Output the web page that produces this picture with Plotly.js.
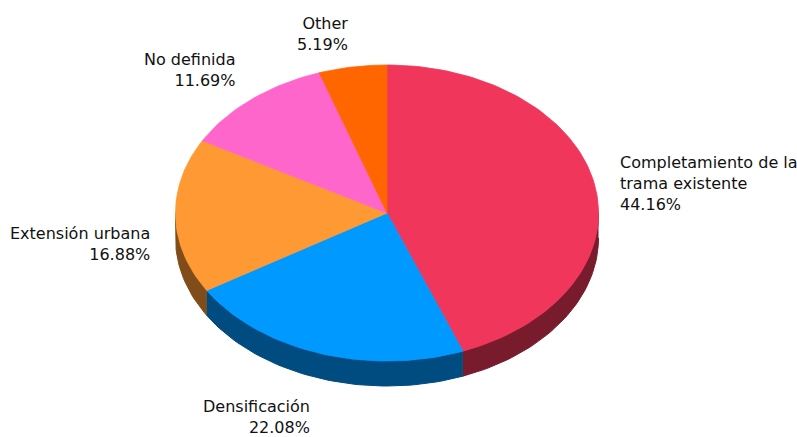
<!DOCTYPE html>
<html><head><meta charset="utf-8">
<script src="https://cdn.plot.ly/plotly-3.0.1.min.js"></script>
<style>html,body{margin:0;padding:0;background:#fff;}#chart{width:797px;height:437px;}</style>
</head><body><div id="chart"></div>
<script>
// ---- data ----
const categories = ["Completamiento de la trama existente", "Densificación", "Extensión urbana", "No definida", "Other"];
const percentages = [44.16, 22.08, 16.88, 11.69, 5.19];
const topColors = ["#F0365A", "#0099FF", "#FF9933", "#FF66CC", "#FF6600"];
const sideColors = ["#781B2D", "#004C80", "#804C19", "#803366", "#803300"];

// ---- geometry / styling ----
const cx = 387, cy = 213, rx = 211.5, ry = 148, depth = 25;
const lrx = 236, lcy = 229, lry = 198;
const labelNudgeY = [-9, 0, 11, -7, 0];   // label spacing adjustments (px)

function pt(deg, dy) {
  const r = deg * Math.PI / 180;
  return [cx + rx * Math.sin(r), cy - ry * Math.cos(r) + (dy || 0)];
}
function wrap(s, n) {
  const words = s.split(" "); const lines = []; let cur = "";
  words.forEach(w => {
    if (cur && (cur + " " + w).length > n) { lines.push(cur); cur = w; }
    else cur = cur ? cur + " " + w : w;
  });
  if (cur) lines.push(cur);
  return lines.join("<br>");
}

const total = percentages.reduce((a, b) => a + b, 0);
const sides = [], tops = [], annotations = [];
let start = 0;
percentages.forEach((v, i) => {
  const sweep = v / total * 360, end = start + sweep;
  // side wall (front half only)
  const a0 = Math.max(start, 90), a1 = Math.min(end, 270);
  if (a1 > a0) {
    const xs = [], ys = [];
    const n = Math.max(4, Math.ceil((a1 - a0) / 1.5));
    for (let k = 0; k <= n; k++) { const p = pt(a0 + (a1 - a0) * k / n, 0); xs.push(p[0]); ys.push(p[1]); }
    for (let k = n; k >= 0; k--) { const p = pt(a0 + (a1 - a0) * k / n, depth); xs.push(p[0]); ys.push(p[1]); }
    sides.push({type: "scatter", mode: "lines", x: xs, y: ys, fill: "toself",
      fillcolor: sideColors[i], line: {color: sideColors[i], width: 1}, hoverinfo: "skip"});
  }
  // top face
  const xs = [cx], ys = [cy];
  const n = Math.max(4, Math.ceil(sweep / 1.5));
  for (let k = 0; k <= n; k++) { const p = pt(start + sweep * k / n, 0); xs.push(p[0]); ys.push(p[1]); }
  xs.push(cx); ys.push(cy);
  tops.push({type: "scatter", mode: "lines", x: xs, y: ys, fill: "toself",
    fillcolor: topColors[i], line: {color: topColors[i], width: 0.8}, hoverinfo: "skip"});
  // label
  const mid = (start + sweep / 2) * Math.PI / 180;
  const left = Math.sin(mid) < 0;
  annotations.push({
    x: cx + lrx * Math.sin(mid), y: lcy - lry * Math.cos(mid) + labelNudgeY[i], xref: "x", yref: "y",
    text: wrap(categories[i], 20) + "<br>" + v.toFixed(2) + "%",
    showarrow: false, xanchor: left ? "right" : "left", yanchor: "middle",
    align: left ? "right" : "left", borderpad: 0,
    font: {family: "DejaVu Sans, sans-serif", size: 16, color: "#111"}
  });
  start = end;
});

const layout = {
  width: 797, height: 437, margin: {l: 0, r: 0, t: 0, b: 0},
  paper_bgcolor: "#ffffff", plot_bgcolor: "#ffffff", showlegend: false,
  xaxis: {range: [0, 797], visible: false, fixedrange: true},
  yaxis: {range: [437, 0], visible: false, fixedrange: true},
  annotations: annotations
};
Plotly.newPlot("chart", sides.concat(tops), layout, {displayModeBar: false, staticPlot: true});
</script></body></html>
